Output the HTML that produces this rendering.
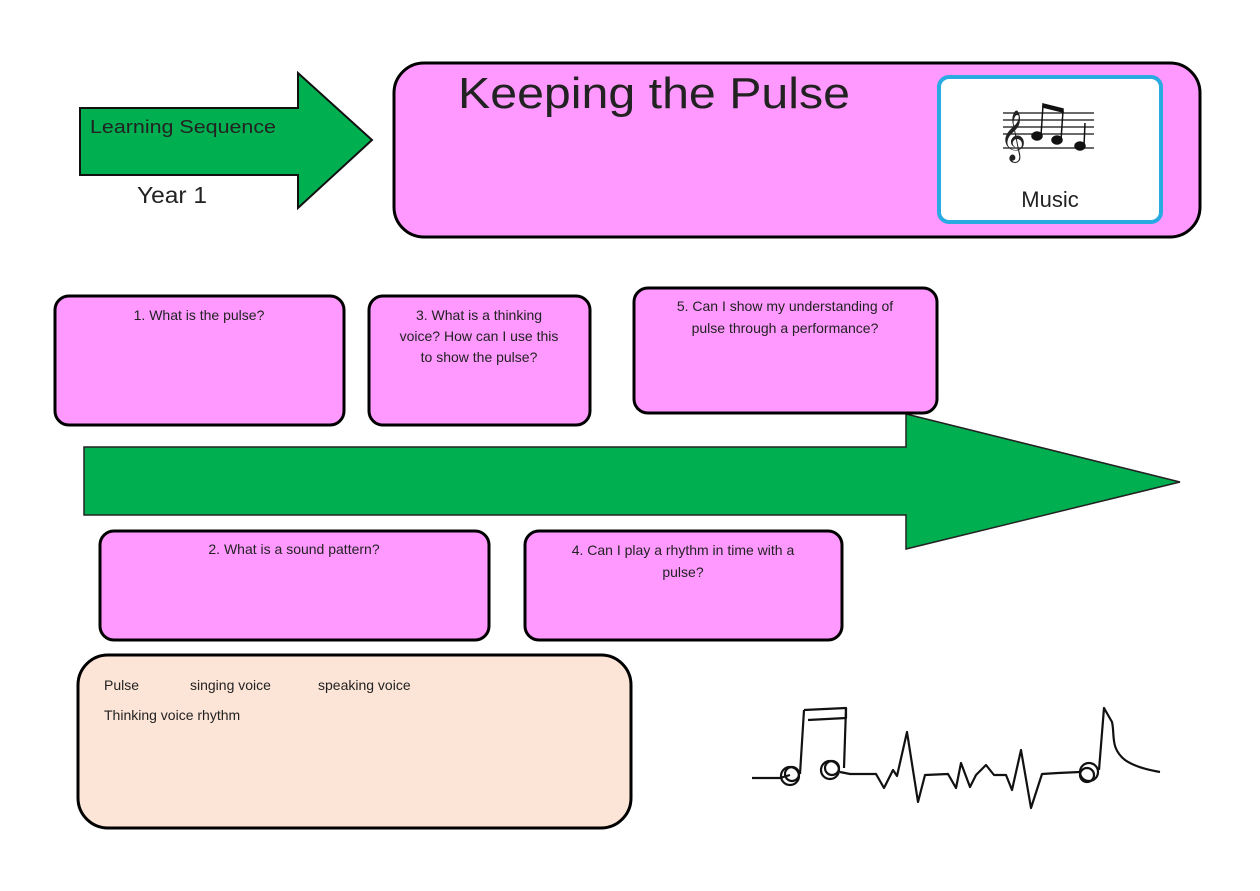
<!DOCTYPE html>
<html><head><meta charset="utf-8"><style>
html,body{margin:0;padding:0;background:#fff;}
body{width:1260px;height:891px;position:relative;overflow:hidden;}
svg{position:absolute;left:0;top:0;}
text{font-family:"Liberation Sans",sans-serif;fill:#222;}
</style></head><body>
<svg width="1260" height="891" viewBox="0 0 1260 891">
<polygon points="80,108 298,108 298,73 372,140 298,208 298,175 80,175" fill="#00b050" stroke="#111" stroke-width="2"/>
<text x="90" y="133" font-size="18" textLength="186" lengthAdjust="spacingAndGlyphs">Learning Sequence</text>
<text x="137" y="203" font-size="23" textLength="70" lengthAdjust="spacingAndGlyphs">Year 1</text>
<rect x="394" y="63" width="806" height="174" rx="30" fill="#ff99ff" stroke="#000" stroke-width="3"/>
<text x="458" y="108" font-size="44" textLength="392" lengthAdjust="spacingAndGlyphs">Keeping the Pulse</text>
<rect x="939" y="77" width="222" height="145" rx="10" fill="#fff" stroke="#29abe2" stroke-width="4"/>
<g stroke="#111" stroke-width="1.3">
<line x1="1003" y1="113" x2="1094" y2="113"/><line x1="1003" y1="120" x2="1094" y2="120"/><line x1="1003" y1="127" x2="1094" y2="127"/><line x1="1003" y1="134" x2="1094" y2="134"/><line x1="1003" y1="148" x2="1094" y2="148"/>
</g>
<text x="1000" y="150" font-size="44" font-family="DejaVu Sans">𝄞</text>
<g fill="#111" stroke="#111" stroke-width="1.5">
<ellipse cx="1037" cy="136" rx="5" ry="4"/><ellipse cx="1057" cy="140" rx="5" ry="4"/><ellipse cx="1080" cy="146" rx="5" ry="4"/>
<line x1="1041" y1="136" x2="1043" y2="105"/><line x1="1061" y1="140" x2="1063" y2="111"/><line x1="1084" y1="146" x2="1085" y2="123"/>
<polygon points="1043,104 1063,109 1063,112 1043,107"/>
</g>
<text x="1050" y="207" font-size="22" text-anchor="middle">Music</text>
<polygon points="84,447 906,447 906,414 1180,482 906,549 906,515 84,515" fill="#00b050" stroke="#222" stroke-width="1.5"/>
<g fill="#ff99ff" stroke="#000" stroke-width="3">
<rect x="55" y="296" width="289" height="129" rx="14"/>
<rect x="369" y="296" width="221" height="129" rx="14"/>
<rect x="634" y="288" width="303" height="125" rx="14"/>
<rect x="100" y="531" width="389" height="109" rx="14"/>
<rect x="525" y="531" width="317" height="109" rx="14"/>
</g>
<g font-size="14" text-anchor="middle">
<text x="199" y="320">1. What is the pulse?</text>
<text x="479" y="320">3. What is a thinking</text>
<text x="479" y="341">voice? How can I use this</text>
<text x="479" y="362">to show the pulse?</text>
<text x="785" y="311">5. Can I show my understanding of</text>
<text x="785" y="333">pulse through a performance?</text>
<text x="294" y="554">2. What is a sound pattern?</text>
<text x="683" y="555">4. Can I play a rhythm in time with a</text>
<text x="683" y="577">pulse?</text>
</g>
<rect x="78" y="655" width="553" height="173" rx="30" fill="#fce4d6" stroke="#000" stroke-width="3"/>
<g font-size="14">
<text x="104" y="690">Pulse</text><text x="190" y="690">singing voice</text><text x="318" y="690">speaking voice</text>
<text x="104" y="720">Thinking voice  rhythm</text>
</g>
<g fill="none" stroke="#111" stroke-width="2.2" stroke-linejoin="round">
<polyline points="752,778 780,778 790,775"/>
<circle cx="790" cy="776" r="9"/><circle cx="792" cy="774" r="7"/>
<circle cx="830" cy="770" r="9"/><circle cx="832" cy="768" r="7"/>
<line x1="800" y1="774" x2="804" y2="710"/><line x1="844" y1="768" x2="846" y2="708"/>
<path d="M804,710 L846,708 L846,718 L808,720"/>
<polyline points="840,772 850,774 876,774 884,788 893,770 897,776 907,732 918,802 925,775 948,774 956,788 961,763 970,787 976,775 986,765 994,775 1006,775 1012,790 1021,750 1031,808 1042,774 1058,773 1080,772"/>
<circle cx="1089" cy="772" r="9"/><circle cx="1087" cy="775" r="7"/>
<path d="M1099,770 L1104,708 L1112,722 C1115,735 1110,748 1125,760 C1135,767 1148,770 1160,772"/>
</g>
</svg>
</body></html>
